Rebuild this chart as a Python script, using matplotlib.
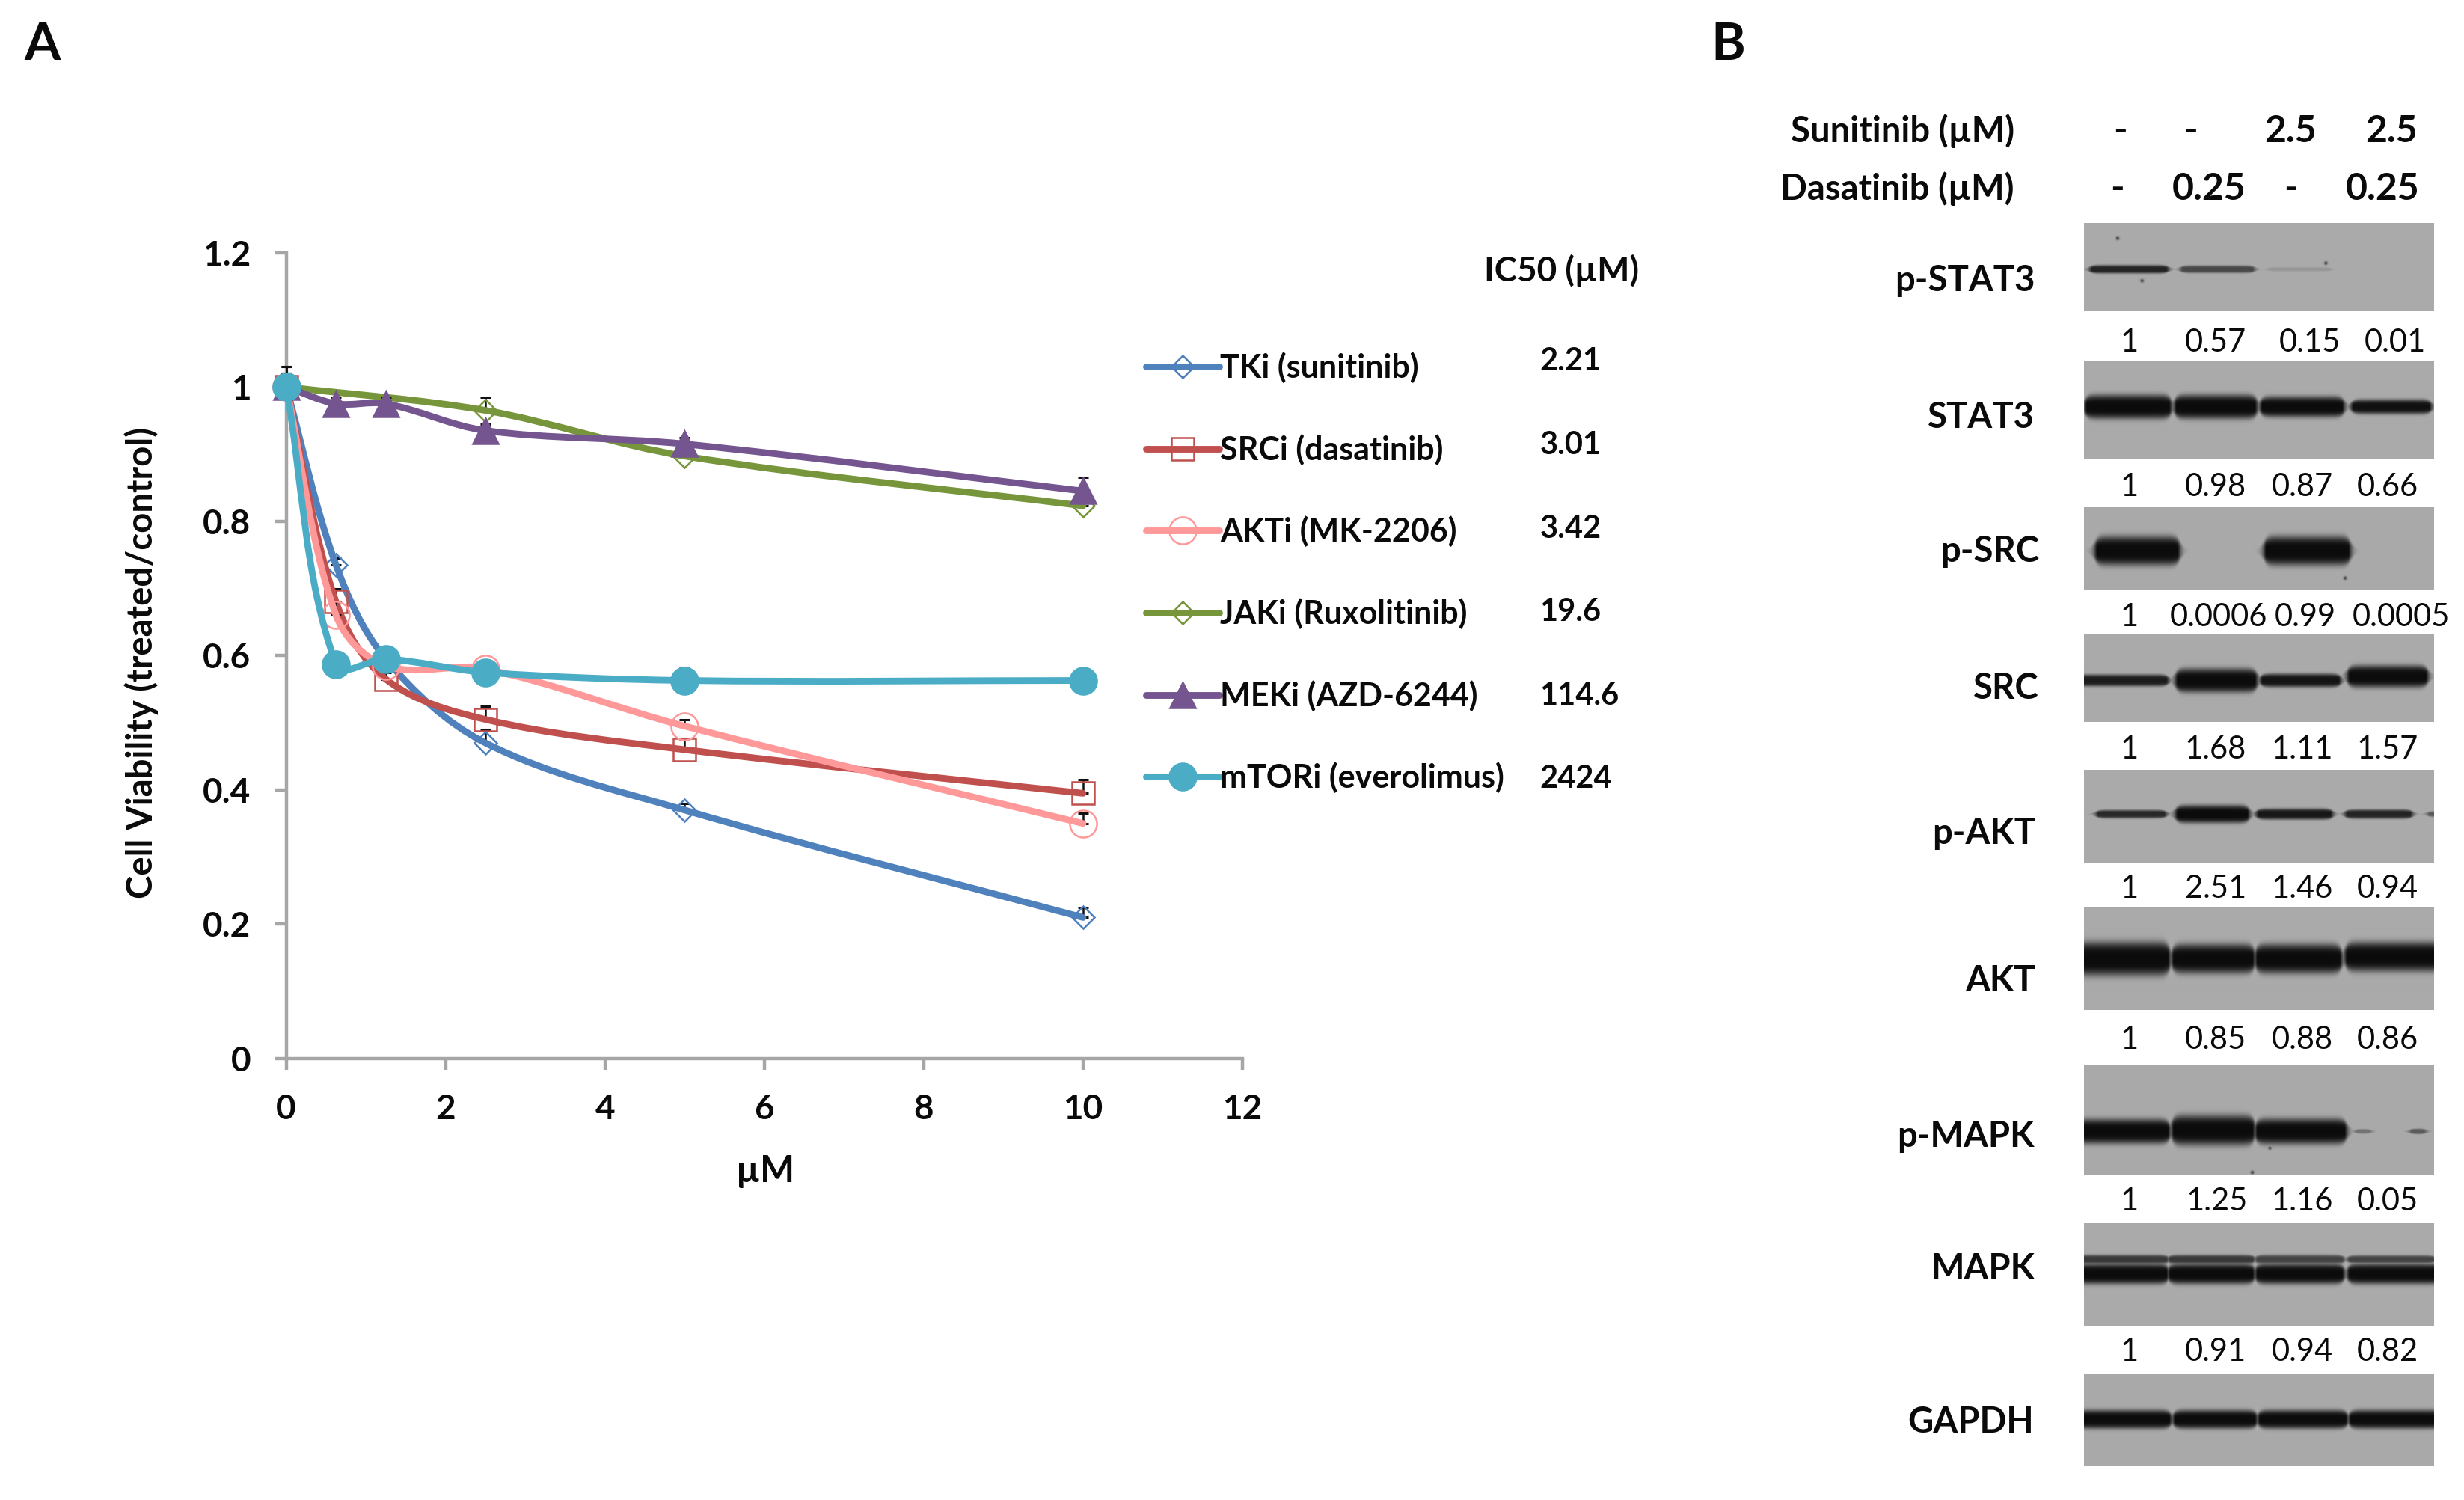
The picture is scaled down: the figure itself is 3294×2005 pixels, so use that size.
import numpy as np
import matplotlib
matplotlib.use("Agg")
import matplotlib.pyplot as plt
from matplotlib.lines import Line2D
from matplotlib.path import Path
from matplotlib.patches import PathPatch

W, H = 3294, 2005
plt.rcParams['font.family'] = ['Lato', 'DejaVu Sans']

# ---------- data, panel A ----------
doses = [0, 0.625, 1.25, 2.5, 5, 10]
jaki_doses = [0, 2.5, 5, 10]
names = ["TKi (sunitinib)", "SRCi (dasatinib)", "AKTi (MK-2206)",
         "JAKi (Ruxolitinib)", "MEKi (AZD-6244)", "mTORi (everolimus)"]
tki = [1.0, 0.735, 0.595, 0.47, 0.37, 0.21]
srci = [1.0, 0.68, 0.565, 0.505, 0.46, 0.395]
akti = [1.0, 0.66, 0.585, 0.58, 0.495, 0.35]
jaki = [1.0, 0.965, 0.897, 0.823]
meki = [1.0, 0.975, 0.975, 0.935, 0.915, 0.845]
mtori = [1.0, 0.587, 0.595, 0.575, 0.563, 0.563]
tki_err = [0.02, 0.01, 0.01, 0.02, 0.01, 0.015]
srci_err = [0.03, 0.02, 0.01, 0.02, 0.015, 0.02]
akti_err = [0.02, 0.02, 0.01, 0.01, 0.01, 0.015]
jaki_err = [0.02, 0.02, 0.01, 0.01]
meki_err = [0.03, 0.01, 0.01, 0.01, 0.01, 0.02]
mtori_err = [0.02, 0.01, 0.01, 0.01, 0.02, 0.01]
ic50 = ["2.21", "3.01", "3.42", "19.6", "114.6", "2424"]

# ---------- data, panel B ----------
blot_names = ["p-STAT3", "STAT3", "p-SRC", "SRC", "p-AKT", "AKT", "p-MAPK", "MAPK", "GAPDH"]
sunitinib = ["-", "-", "2.5", "2.5"]
dasatinib = ["-", "0.25", "-", "0.25"]
quant = [["1", "0.57", "0.15", "0.01"],
         ["1", "0.98", "0.87", "0.66"],
         ["1", "0.0006", "0.99", "0.0005"],
         ["1", "1.68", "1.11", "1.57"],
         ["1", "2.51", "1.46", "0.94"],
         ["1", "0.85", "0.88", "0.86"],
         ["1", "1.25", "1.16", "0.05"],
         ["1", "0.91", "0.94", "0.82"]]

# bands of each blot: lane start, lane end, height fraction, thickness px, darkness
bands = [
    [(.018, .238, .52, 8, .85), (.277, .484, .52, 7, .62), (.526, .704, .52, 3, .12)],
    [(.004, .246, .46, 26, 1), (.260, .491, .46, 26, 1), (.505, .740, .46, 22, 1), (.765, .989, .46, 15, .97)],
    [(.033, .270, .525, 32, 1), (.516, .758, .525, 32, 1)],
    [(-.02, .238, .525, 12, .9), (.263, .491, .525, 26, 1), (.505, .730, .525, 14, .95), (.754, .979, .48, 24, 1)],
    [(.036, .232, .47, 8, .82), (.263, .469, .47, 19, 1), (.494, .707, .47, 11, .93), (.747, .935, .47, 9, .85), (.982, 1.02, .47, 5, .5)],
    [(-.02, .242, .50, 37, 1), (.252, .484, .50, 32, 1), (.491, .733, .50, 32, 1), (.747, 1.02, .48, 32, 1)],
    [(-.02, .242, .60, 27, 1), (.252, .484, .59, 33, 1), (.491, .747, .60, 28, 1), (.775, .818, .60, 4, .35), (.932, .974, .60, 5, .5)],
    [(-.02, .238, .35, 9, .72), (.242, .484, .35, 9, .72), (.491, .740, .35, 9, .65), (.754, 1.0, .35, 8, .65),
     (-.02, .238, .49, 22, 1), (.242, .484, .49, 22, 1), (.491, .740, .49, 22, 1), (.754, 1.02, .49, 22, 1)],
    [(-.02, .246, .49, 20, 1), (.256, .491, .49, 20, 1), (.498, .750, .49, 20, 1), (.758, 1.02, .49, 20, 1)],
]
specks = [[(.69, .45), (.095, .17), (.165, .65)], [], [(.745, .85)], [], [], [], [(.53, .75), (.48, .97)], [], []]

# ---------- layout (pixels of the final image) ----------
fig = plt.figure(figsize=(W / 100, H / 100), dpi=100, facecolor='white')


def fx(x):
    return x / W


def fy(y):
    return 1 - y / H


def label(x, y, s, size, weight='bold', ha='center', rotation=0):
    fig.text(fx(x), fy(y), s, fontsize=size, fontweight=weight, ha=ha, va='center',
             rotation=rotation, color='#0a0a0a')


AX_L, AX_R, AX_T, AX_B = 382.6, 1661, 337.6, 1415
ax = fig.add_axes([fx(AX_L), fy(AX_B), (AX_R - AX_L) / W, (AX_B - AX_T) / H])
ax.set_xlim(0, 12)
ax.set_ylim(0, 1.2)
ax.patch.set_alpha(0)
for s in ('top', 'right'):
    ax.spines[s].set_visible(False)
for s in ('left', 'bottom'):
    ax.spines[s].set_color('#A6A6A6')
    ax.spines[s].set_linewidth(3.2)
ax.set_xticks(range(0, 13, 2))
ax.set_yticks([0, 0.2, 0.4, 0.6, 0.8, 1.0, 1.2])
ax.set_yticklabels(["0", "0.2", "0.4", "0.6", "0.8", "1", "1.2"])
ax.tick_params(axis='both', length=11, width=3.2, color='#A6A6A6', labelsize=33, labelcolor='#0a0a0a')
ax.tick_params(axis='y', pad=23)
ax.tick_params(axis='x', pad=23)
for t in ax.get_xticklabels() + ax.get_yticklabels():
    t.set_fontweight('bold')

xseries = [doses, doses, doses, jaki_doses, doses, doses]
series = [tki, srci, akti, jaki, meki, mtori]
errors = [tki_err, srci_err, akti_err, jaki_err, meki_err, mtori_err]
colors = ['#4F81BD', '#C0504D', '#FF9999', '#77963C', '#74558F', '#4BACC6']
markers = ['D', 's', 'o', 'D', '^', 'o']
msizes = [15, 21, 26, 15, 24, 26]
filled = [False, False, False, False, True, True]
LW = 6.4
SX = (AX_R - AX_L) / 12
SY = (AX_B - AX_T) / 1.2


def smooth_path(xs, ys):
    """Smoothed line: the tangent of each point is set by its neighbours and the
    handle length by the segment it belongs to (measured on screen)."""
    scale = np.array([SX, SY])
    p = np.column_stack([xs, ys]) * scale
    n = len(p)
    tang = []
    for i in range(n):
        d = p[min(i + 1, n - 1)] - p[max(i - 1, 0)]
        tang.append(d / np.hypot(*d))
    verts, codes = [p[0]], [Path.MOVETO]
    for i in range(n - 1):
        L = np.hypot(*(p[i + 1] - p[i])) / 3
        verts += [p[i] + tang[i] * L, p[i + 1] - tang[i + 1] * L, p[i + 1]]
        codes += [Path.CURVE4] * 3
    return Path(np.array(verts) / scale, codes)


handles = []
for k, (xs, vals, err, c, m, ms, fl) in enumerate(zip(xseries, series, errors, colors, markers, msizes, filled)):
    z = 3 + k
    ax.errorbar(xs, vals, yerr=[np.zeros(len(err)), err], fmt='none', ecolor='#111111',
                elinewidth=1.8, capsize=5, capthick=2.2, zorder=z, clip_on=False)
    ax.add_patch(PathPatch(smooth_path(xs, vals), fc='none', ec=c, lw=LW, zorder=z,
                           capstyle='round', clip_on=False))
    style = dict(marker=m, ms=ms, mfc=c if fl else 'none', mec=c, mew=1.8)
    ax.plot(xs, vals, ls='none', zorder=z + .5, clip_on=False, **style)
    handles.append(Line2D([], [], color=c, lw=LW, solid_capstyle='round', **style))

ax.legend(handles, names, loc='upper left', bbox_to_anchor=(fx(1510), fy(449)), bbox_transform=fig.transFigure,
          frameon=False, numpoints=1, prop=dict(size=31, weight='bold'), handlelength=2.28,
          handletextpad=0.04, labelspacing=1.58, labelcolor='#0a0a0a', borderpad=0.5, borderaxespad=0)

label(189, 886, "Cell Viability (treated/control)", 34, rotation=90)
label(1023, 1565, "µM", 35)
label(2088, 362, "IC50 (µM)", 33)
for v, y in zip(ic50, [483, 595, 707, 818, 929.5, 1041]):
    label(2058.5, y, v, 30, ha='left')
label(57, 60, "A", 50)
label(2310, 60, "B", 50)

# ---------- panel B ----------
BL, BR = 2786, 3254
blot_y = [(298, 416), (483, 613.5), (678, 789.5), (847, 965), (1029, 1154),
          (1213, 1350), (1423, 1570.5), (1635, 1772), (1836.5, 1960)]
BG = 0.665


def render(h, w, blot, dots):
    yy, xx = np.mgrid[0:h, 0:w]
    dark = np.zeros((h, w))
    for x0, x1, yc, th, d in blot:
        px = 0.5 * (np.tanh((xx - x0 * w) / 6.0) - np.tanh((xx - x1 * w) / 6.0))
        half = (th * 0.57 + 1.0) * np.sqrt(px) + 0.01
        py = np.exp(-np.abs((yy - yc * h) / half) ** 4)
        dark = np.maximum(dark, d * np.minimum(1, px * 1.6) * py)
    for dx, dy in dots:
        dark = np.maximum(dark, 0.7 * np.exp(-((xx - dx * w) ** 2 + (yy - dy * h) ** 2) / 5.0))
    return BG * (1 - 0.93 * dark)


for (y0, y1), blot, dots in zip(blot_y, bands, specks):
    a = fig.add_axes([fx(BL), fy(y1), (BR - BL) / W, (y1 - y0) / H])
    a.imshow(render(int(round(y1 - y0)), BR - BL, blot, dots), cmap='gray', vmin=0, vmax=1,
             aspect='auto', interpolation='bilinear')
    a.axis('off')

label(2693, 175.5, "Sunitinib (µM)", 34, ha='right')
label(2693, 252.6, "Dasatinib (µM)", 34, ha='right')
for s, x in zip(sunitinib, [2835, 2928, 3062, 3197]):
    label(x, 175.5, s, 36)
for s, x in zip(dasatinib, [2831, 2953, 3062, 3185]):
    label(x, 252.6, s, 36)

name_x = [2721, 2720, 2726, 2726, 2721, 2721, 2720, 2720, 2719]
name_y = [375, 558, 737, 920, 1114, 1311, 1519, 1696, 1901]
for s, x, y in zip(blot_names, name_x, name_y):
    label(x, y, s, 34, ha='right')

quant_y = [458, 651, 825, 1002, 1188.5, 1390, 1606.5, 1807]
quant_x = [[2847, 2962, 3087.5, 3202], [2847, 2962, 3078, 3192], [2847, 2966, 3082, 3210], [2847, 2962, 3078, 3192],
           [2847, 2962, 3078, 3192], [2847, 2962, 3078, 3192], [2847, 2964, 3078, 3192], [2847, 2962, 3078, 3192]]
for row, xs, y in zip(quant, quant_x, quant_y):
    for s, x in zip(row, xs):
        label(x, y, s, 30, weight='normal')

fig.savefig("out.png", dpi=100, facecolor='white')
